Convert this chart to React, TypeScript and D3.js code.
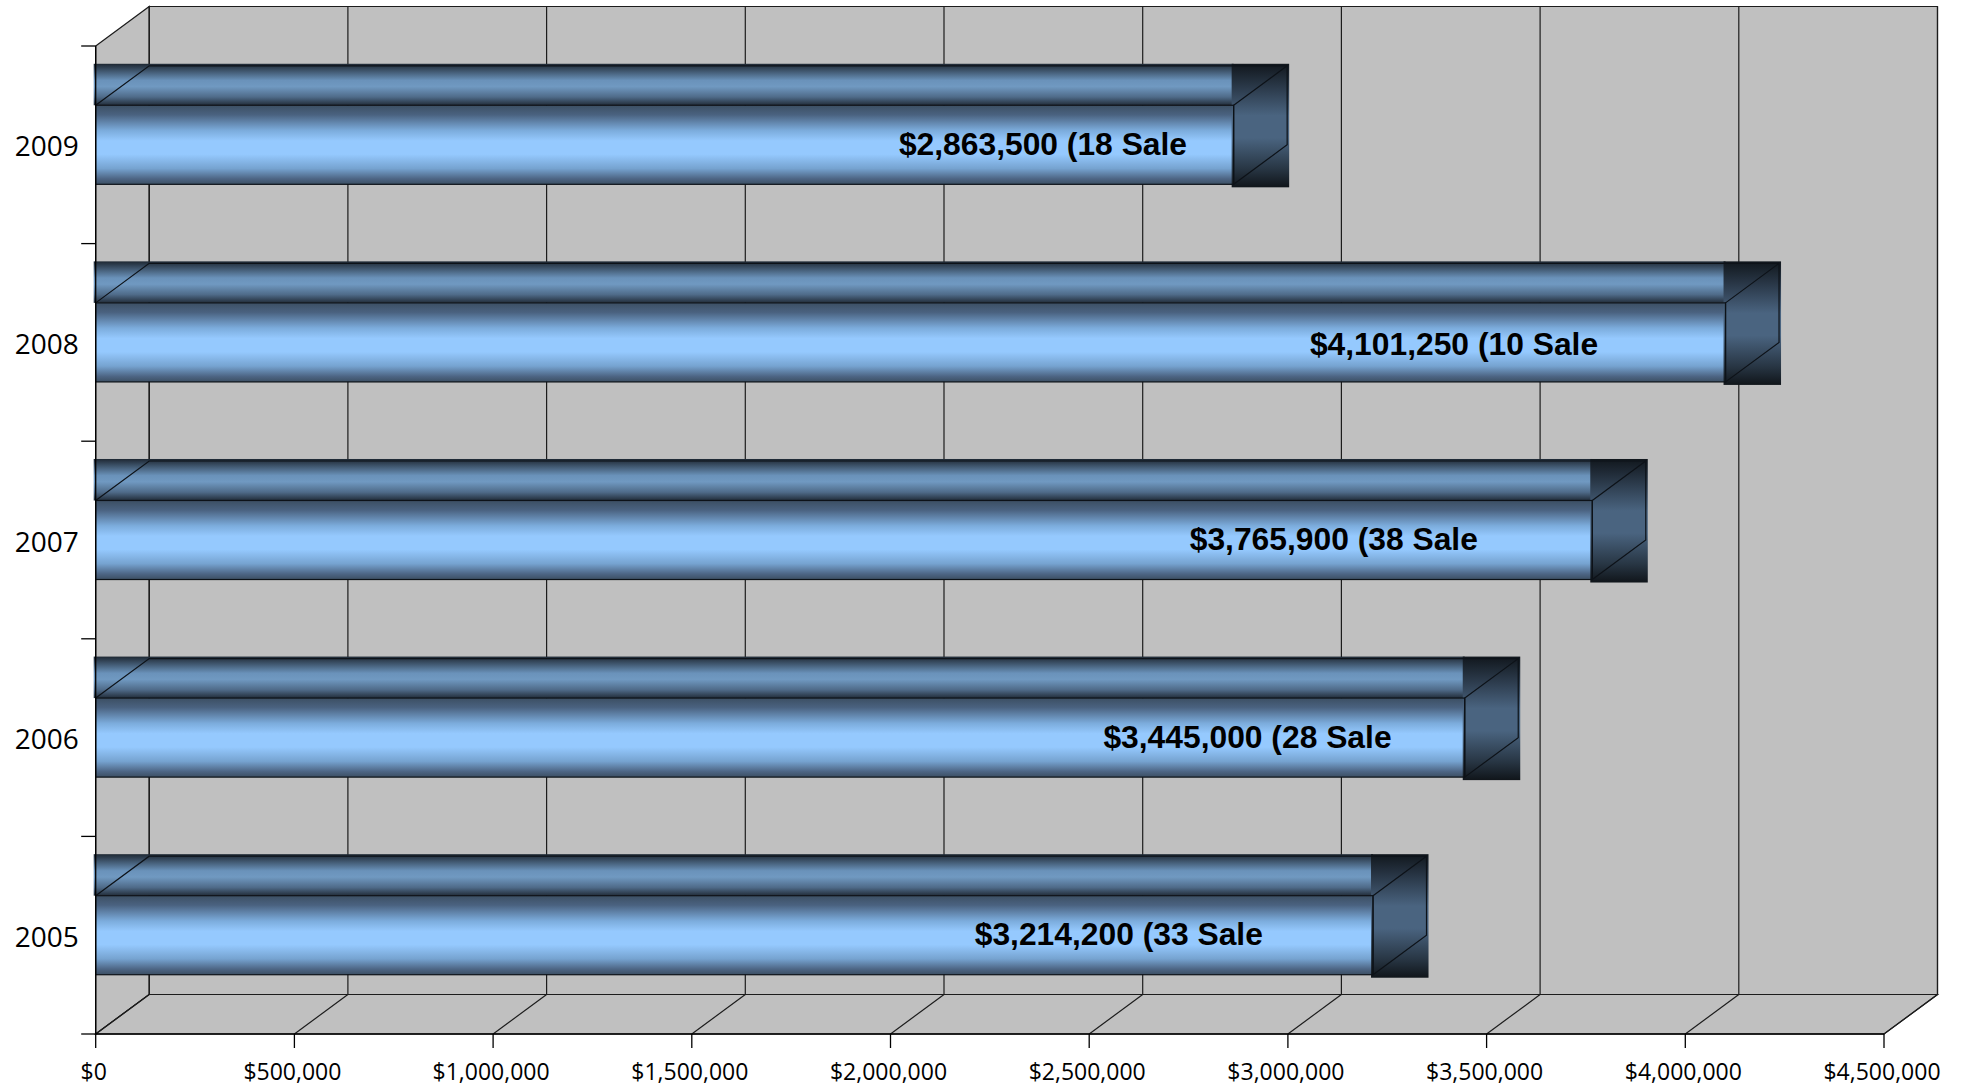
import React, { useEffect } from "react";
import * as d3 from "d3";

// ---- data ----
const years = ["2009", "2008", "2007", "2006", "2005"];
const values = [2863500, 4101250, 3765900, 3445000, 3214200];
const labels = [
  "$2,863,500 (18 Sale",
  "$4,101,250 (10 Sale",
  "$3,765,900 (38 Sale",
  "$3,445,000 (28 Sale",
  "$3,214,200 (33 Sale",
];
// label centre, in dollars along the value axis (labels were placed by hand)
const labelAt = [2383700, 3418000, 3115500, 2898300, 2574500];
// small hand-placement nudge of each label, as a fraction of the bar thickness
const labelNudge = [0, 0.04, 0, 0.01, 0];
const xTicks = [0, 500000, 1000000, 1500000, 2000000, 2500000, 3000000, 3500000, 4000000, 4500000];

const W = 1965;
const H = 1086;
const DX = 53.5; // depth offset
const DY = 39.5;

export default function App() {
  useEffect(() => {
    document.body.style.margin = "0";
  }, []);

  const x = d3.scaleLinear().domain([0, 4500000]).range([95.7, 1884]);
  const y = d3
    .scaleBand<string>()
    .domain(years)
    .range([46, 1034])
    .paddingInner(0.6)
    .paddingOuter(0.3);
  const step = y.step();
  const top = 46;
  const floor = 1034;
  const x0 = x(0);
  const x1 = x(4500000);
  const fmt = d3.format("$,");
  const gridStroke = "#1c1c1c";
  const axisFont = "'Open Sans', 'Noto Sans', sans-serif";
  const boundaries = d3.range(years.length + 1).map((i) => top + i * step);

  return (
    <svg
      width={W}
      height={H}
      style={{ position: "absolute", left: 0, top: 0, background: "#fff" }}
    >
      <defs>
        <linearGradient id="gFront" x1="0" y1="0" x2="0" y2="1">
          <stop offset="0" stopColor="#3c4f63" />
          <stop offset="0.12" stopColor="#4a6280" />
          <stop offset="0.32" stopColor="#7cacdc" />
          <stop offset="0.45" stopColor="#95c9fe" />
          <stop offset="0.62" stopColor="#95c9fe" />
          <stop offset="0.8" stopColor="#76a3d0" />
          <stop offset="0.93" stopColor="#4d6584" />
          <stop offset="1" stopColor="#3c4f63" />
        </linearGradient>
        <linearGradient id="gTop" x1="0" y1="0" x2="0" y2="1">
          <stop offset="0" stopColor="#1e2833" />
          <stop offset="0.15" stopColor="#3b5066" />
          <stop offset="0.4" stopColor="#6a92ba" />
          <stop offset="0.55" stopColor="#7099c1" />
          <stop offset="0.8" stopColor="#4f6b89" />
          <stop offset="1" stopColor="#222d39" />
        </linearGradient>
        <linearGradient id="gSide" x1="0" y1="0" x2="0" y2="1">
          <stop offset="0" stopColor="#11171d" />
          <stop offset="0.2" stopColor="#2c3b4c" />
          <stop offset="0.42" stopColor="#4a6480" />
          <stop offset="0.6" stopColor="#4a6480" />
          <stop offset="0.85" stopColor="#283644" />
          <stop offset="1" stopColor="#10151a" />
        </linearGradient>
      </defs>

      {/* walls */}
      <polygon
        points={`${x0 + DX},${top - DY} ${x1 + DX},${top - DY} ${x1 + DX},${floor - DY} ${x0 + DX},${floor - DY}`}
        fill="#c0c0c0"
        stroke={gridStroke}
        strokeWidth={1.2}
      />
      <polygon
        points={`${x0},${top} ${x0 + DX},${top - DY} ${x0 + DX},${floor - DY} ${x0},${floor}`}
        fill="#c0c0c0"
        stroke={gridStroke}
        strokeWidth={1.2}
      />
      <polygon
        points={`${x0},${floor} ${x0 + DX},${floor - DY} ${x1 + DX},${floor - DY} ${x1},${floor}`}
        fill="#c0c0c0"
        stroke={gridStroke}
        strokeWidth={1.2}
      />

      {/* gridlines */}
      {xTicks.map((t) => (
        <g key={"g" + t}>
          <line
            x1={x(t) + DX}
            x2={x(t) + DX}
            y1={top - DY}
            y2={floor - DY}
            stroke={gridStroke}
            strokeWidth={1.2}
          />
          <line
            x1={x(t)}
            y1={floor}
            x2={x(t) + DX}
            y2={floor - DY}
            stroke={gridStroke}
            strokeWidth={1.2}
          />
        </g>
      ))}

      {/* bars */}
      {years.map((yr, i) => {
        const yt = y(yr)!;
        const bw = y.bandwidth();
        const yb = yt + bw;
        const xe = x(values[i]);
        return (
          <g key={yr}>
            <rect
              x={x0 - 2}
              y={yt - DY - 2}
              width={xe - x0 + 2}
              height={DY + 2}
              fill="url(#gTop)"
            />
            <rect x={x0} y={yt} width={xe - x0} height={bw} fill="url(#gFront)" />
            <rect
              x={xe - 2}
              y={yt - DY - 2}
              width={DX + 4}
              height={bw + DY + 5}
              fill="url(#gSide)"
            />
            <path
              d={`M${x0},${yt} L${x0 + DX},${yt - DY} L${xe + DX},${yt - DY}`}
              fill="none"
              stroke="#0d1218"
              strokeWidth={1.2}
            />
            <rect
              x={x0}
              y={yt}
              width={xe - x0}
              height={bw}
              fill="none"
              stroke="#0d1218"
              strokeWidth={1.2}
            />
            <polygon
              points={`${xe},${yt} ${xe + DX},${yt - DY} ${xe + DX},${yb - DY} ${xe},${yb}`}
              fill="none"
              stroke="#0d1218"
              strokeWidth={1.2}
            />
            <text
              x={x(labelAt[i])}
              y={yt + bw * (0.5 + labelNudge[i]) + 9.7}
              textAnchor="middle"
              fontFamily="'Liberation Sans', Arial, sans-serif"
              fontWeight="bold"
              fontSize={31.8}
              fill="#000"
            >
              {labels[i]}
            </text>
          </g>
        );
      })}

      {/* axes */}
      <line x1={x0} x2={x0} y1={top} y2={floor} stroke="#000" strokeWidth={1.3} />
      <line x1={x0} x2={x1} y1={floor} y2={floor} stroke="#000" strokeWidth={1.3} />
      {boundaries.map((b, i) => (
        <line key={"yt" + i} x1={x0 - 14.5} x2={x0} y1={b} y2={b} stroke="#000" strokeWidth={1.3} />
      ))}
      {xTicks.map((t) => (
        <g key={"xt" + t}>
          <line x1={x(t)} x2={x(t)} y1={floor} y2={floor + 14} stroke="#000" strokeWidth={1.3} />
          <text
            x={x(t) - 2}
            y={floor + 46}
            textAnchor="middle"
            fontFamily={axisFont}
            fontSize={23}
            fill="#000"
          >
            {fmt(t)}
          </text>
        </g>
      ))}
      {years.map((yr) => (
        <text
          key={"yl" + yr}
          x={x0 - 17}
          y={y(yr)! + y.bandwidth() / 2 + 11.5}
          textAnchor="end"
          fontFamily={axisFont}
          fontSize={28}
          fill="#000"
        >
          {yr}
        </text>
      ))}
    </svg>
  );
}
